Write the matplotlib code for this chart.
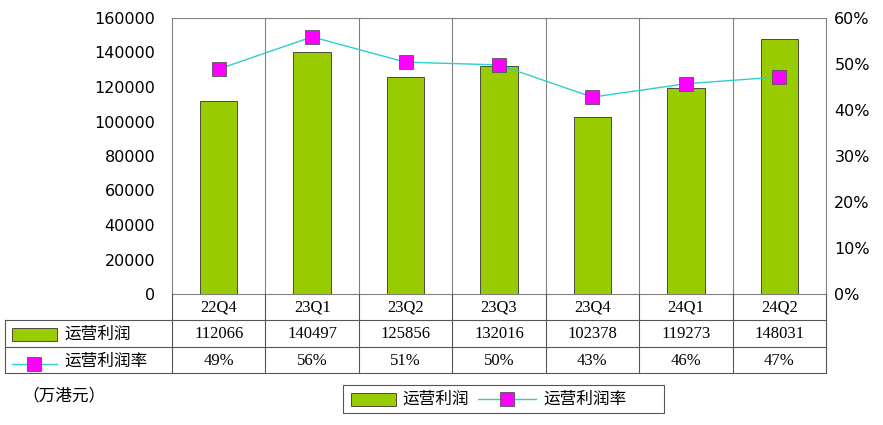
import matplotlib
matplotlib.use("Agg")
import matplotlib.pyplot as plt
from matplotlib import transforms
from matplotlib.patches import Rectangle
from matplotlib.lines import Line2D

categories = ["22Q4", "23Q1", "23Q2", "23Q3", "23Q4", "24Q1", "24Q2"]
profit = [112066, 140497, 125856, 132016, 102378, 119273, 148031]
margin = [48.9, 55.9, 50.4, 49.8, 42.8, 45.7, 47.2]
margin_labels = ["49%", "56%", "51%", "50%", "43%", "46%", "47%"]

cjk = "Noto Sans CJK SC"
serif = "Liberation Serif"
green = "#99CC00"
line_c = "#33CCCC"
mag = "#FF00FF"

fig = plt.figure(figsize=(8.83, 4.25), dpi=100)
ax = fig.add_axes([172/883, 1-294/425, 654/883, 276/425])
n = len(categories)
x = list(range(n))
ax.bar(x, profit, width=0.4, color=green, edgecolor="#333333", linewidth=0.6, zorder=2)
ax.set_xlim(-0.5, n-0.5)
ax.set_ylim(0, 160000)
ax.set_yticks(range(0, 160001, 20000))
ax.set_xticks([])
ax.tick_params(axis="y", length=0, labelsize=11.5, pad=12)
for s in ax.spines.values():
    s.set_color("#808080"); s.set_linewidth(0.8)
for b in range(1, n):
    ax.axvline(b-0.5, color="#808080", lw=0.8, zorder=1)

ax2 = ax.twinx()
ax2.plot(x, margin, color=line_c, lw=1, marker="s", markersize=10,
         markerfacecolor=mag, markeredgecolor="#555555", markeredgewidth=0.6, zorder=3)
ax2.set_ylim(0, 60)
ax2.set_yticks(range(0, 61, 10))
ax2.set_yticklabels([f"{v}%" for v in range(0, 61, 10)])
ax2.tick_params(axis="y", length=0, labelsize=11.5, pad=6)
for s in ax2.spines.values():
    s.set_visible(False)
for lab in ax.get_yticklabels() + ax2.get_yticklabels():
    lab.set_fontfamily("DejaVu Sans")

ov = fig.add_axes([0, 0, 1, 1])
ov.set_xlim(0, 883); ov.set_ylim(425, 0); ov.axis("off")
tr = transforms.blended_transform_factory(ax.transData, ov.transData)
lc = "#555555"
# table grid
for yy in (320, 347, 373):
    ov.plot([5, 826], [yy, yy], color=lc, lw=0.8)
for b in range(0, n+1):
    ov.plot([b-0.5, b-0.5], [294, 373], color=lc, lw=0.8, transform=tr)
ov.plot([5, 5], [320, 373], color=lc, lw=0.8)
for i in range(n):
    ov.text(i, 307, categories[i], transform=tr, ha="center", va="center",
            fontsize=12, fontfamily=serif)
    ov.text(i, 334, str(profit[i]), transform=tr, ha="center", va="center",
            fontsize=12, fontfamily=serif)
    ov.text(i, 361, margin_labels[i], transform=tr, ha="center", va="center",
            fontsize=12, fontfamily=serif)
ov.add_patch(Rectangle((12, 328), 45, 13, facecolor=green, edgecolor="#333333", lw=0.6))
ov.text(64, 334, "运营利润", fontfamily=cjk, fontsize=12, va="center")
ov.add_line(Line2D([12, 57], [364, 364], color=line_c, lw=1))
ov.add_line(Line2D([34], [364], marker="s", markersize=10, markerfacecolor=mag,
                   markeredgecolor="#555555", markeredgewidth=0.6))
ov.text(64, 361, "运营利润率", fontfamily=cjk, fontsize=12, va="center")
ov.text(22, 396, "（万港元）", fontfamily=cjk, fontsize=12, va="center")
# legend box
ov.add_patch(Rectangle((343, 385), 321, 28, facecolor="white", edgecolor=lc, lw=0.8))
ov.add_patch(Rectangle((351, 393), 45, 13, facecolor=green, edgecolor="#333333", lw=0.6))
ov.text(402, 399, "运营利润", fontfamily=cjk, fontsize=12, va="center")
ov.add_line(Line2D([478, 536], [399, 399], color=line_c, lw=1))
ov.add_line(Line2D([507], [399], marker="s", markersize=10, markerfacecolor=mag,
                   markeredgecolor="#555555", markeredgewidth=0.6))
ov.text(543, 399, "运营利润率", fontfamily=cjk, fontsize=12, va="center")

fig.savefig("out.png", dpi=100)
